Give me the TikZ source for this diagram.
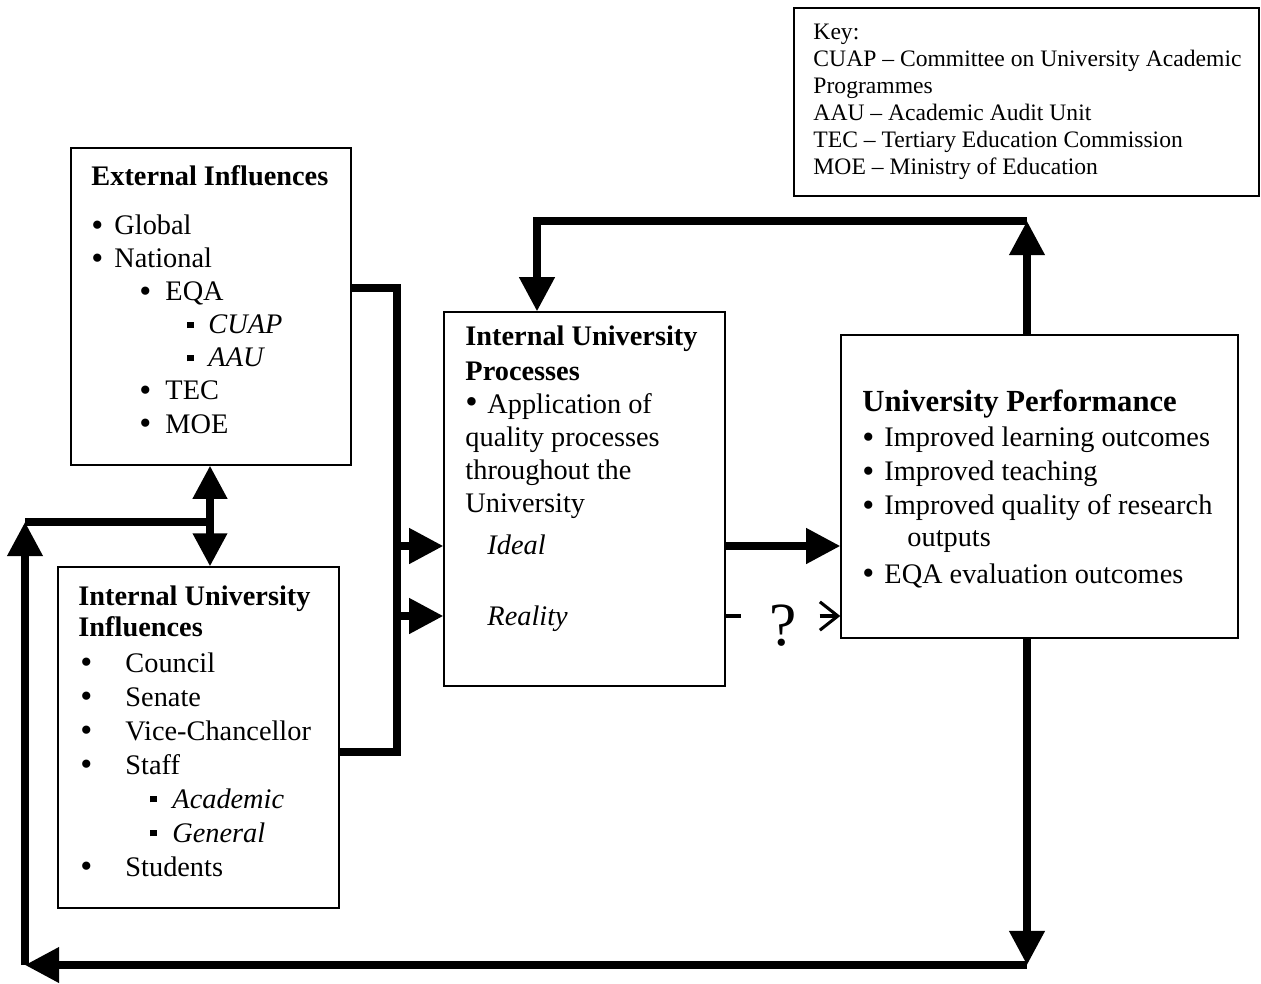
\documentclass[tikz,border=0pt]{standalone}
\usepackage{fontspec}
\setmainfont{Liberation Serif}
\usetikzlibrary{arrows.meta,fit}
\newlength{\unitpx}\setlength{\unitpx}{0.4237pt}
\newcommand{\blt}[1]{\makebox[#1\unitpx][l]{\raisebox{-0.7pt}{\fontsize{14.5}{14}\selectfont\textbullet}}}
\newcommand{\sqb}[1]{\makebox[#1\unitpx][l]{\rule[2.4pt]{2.8pt}{2.8pt}}}
\newcommand{\ind}[1]{\hspace*{#1\unitpx}}

\begin{document}
\begin{tikzpicture}[x=0.4237pt,y=-0.4237pt]
                \tikzstyle{box} = [draw, line width=0.6pt, inner sep=0pt]
                \tikzstyle{txt} = [anchor=base west, align=left, inner sep=0pt, font={\fontsize{12}{14}\selectfont}]
                \tikzstyle{bigline} = [line width=3pt]
                \tikzstyle{arrow} = [line width=3pt, -{Triangle[length=14.5pt,width=14.5pt]}]
                \tikzstyle{twoway} = [line width=3pt, {Triangle[length=14pt,width=14pt]}-{Triangle[length=14pt,width=14pt]}]
                \tikzstyle{maybe} = [line width=1.3pt, dash pattern=on 6.4pt off 13.5pt, -{Straight Barb[length=7.6pt,width=12pt]}]
                \useasboundingbox (0,0) rectangle (1261,983);

                \node (ext) [box, fit={(71,148) (351,465)}] {};
                \node (intinf) [box, fit={(58,567) (339,908)}] {};
                \node (proc) [box, fit={(444,312) (725,686)}] {};
                \node (perf) [box, fit={(841,335) (1238,638)}] {};
                \node (key) [box, fit={(794,8) (1259,196)}] {};

                \node (extT) [txt] at (91,433) {\textbf{External Influences}\\[7pt]%
                    \blt{23}Global\\\blt{23}National\\\ind{48}\blt{26}EQA\\%
                    \ind{96}\sqb{21}\textit{CUAP}\\\ind{96}\sqb{21}\textit{AAU}\\%
                    \ind{48}\blt{26}TEC\\\ind{48}\blt{26}MOE};
                \node (intinfT) [txt, font={\fontsize{12}{14.4}\selectfont}] at (78,876) {\textbf{Internal University}\\[-1.3pt]\textbf{Influences}\\[0.6pt]%
                    \ind{2}\blt{45}Council\\\ind{2}\blt{45}Senate\\\ind{2}\blt{45}Vice-Chancellor\\\ind{2}\blt{45}Staff\\%
                    \ind{72}\sqb{22}\textit{Academic}\\\ind{72}\sqb{22}\textit{General}\\\ind{2}\blt{45}Students};
                \node (procT) [txt] at (465,625) {\textbf{Internal University}\\[1pt]\textbf{Processes}\\%
                    \makebox[22\unitpx][l]{\fontsize{15}{14}\selectfont\textbullet}Application of\\quality processes\\throughout the\\University\\[3.8pt]%
                    \ind{22}\textit{Ideal}\\[15.7pt]\ind{22}\textit{Reality}};
                \node (perfT) [txt, font={\fontsize{12}{14.4}\selectfont}] at (862,583) {{\fontsize{13}{14}\selectfont\textbf{University Performance}}\\[0.4pt]%
                    \blt{22}Improved learning outcomes\\\blt{22}Improved teaching\\\blt{22}Improved quality of research\\[-0.8pt]%
                    \ind{45}outputs\\[0.9pt]\blt{22}EQA evaluation outcomes};
                \node (keyT) [txt, font={\fontsize{10}{11.44}\selectfont}] at (813,174) {Key:\\CUAP – Committee on University Academic\\Programmes\\%
                    AAU – Academic Audit Unit\\TEC – Tertiary Education Commission\\MOE – Ministry of Education};

                \coordinate (busT) at (397,288);
                \coordinate (busB) at (397,752);
                \coordinate (idealL) at (397,546);
                \coordinate (realL) at (397,616);
                \coordinate (topR) at (1027,221);
                \coordinate (topL) at (537,221);
                \coordinate (botR) at (1027,965);
                \coordinate (botL) at (25,965);
                \coordinate (midL) at (25,522);
                \coordinate (dbl) at (210,522);

                \draw [bigline] (ext.east |- busT) -- (busT) -- (busB) -- (intinf.east |- busB);
                \draw [arrow] (idealL) -- (idealL -| proc.west);
                \draw [arrow] (realL) -- (realL -| proc.west);
                \draw [arrow] (proc.east |- idealL) -- (perf.west |- idealL);
                \draw [maybe] (proc.east |- realL) -- node (qm) [midway, yshift=-4pt, fill=white, inner sep=1pt, font={\fontsize{26}{26}\selectfont}] {?} (perf.west |- realL);
                \draw [arrow] (topR |- perf.north) -- (topR);
                \draw [arrow] (topR) -- (topL) -- (topL |- proc.north);
                \draw [arrow] (botR |- perf.south) -- (botR);
                \draw [arrow] (botR) -- (botL);
                \draw [arrow] (botL) -- (midL);
                \draw [bigline] (midL) -- (dbl);
                \draw [twoway] (ext.south -| dbl) -- (intinf.north -| dbl);
            \end{tikzpicture}
\end{document}
